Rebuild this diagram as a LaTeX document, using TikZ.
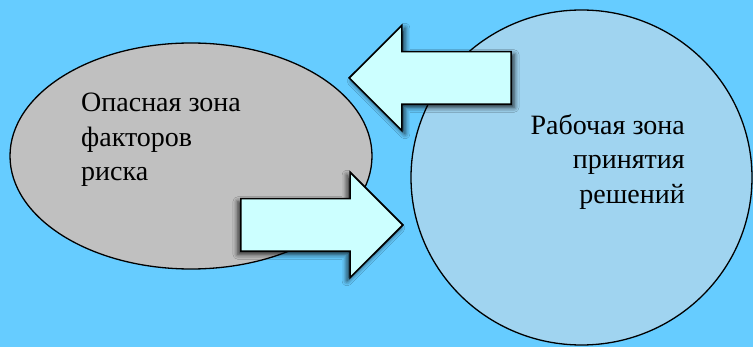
\documentclass[tikz,border=0pt]{standalone}
\usepackage{fontspec}
\setmainfont{Liberation Serif}
\newfontfamily\zonefont{Liberation Serif}
\usetikzlibrary{shapes.geometric,shapes.arrows,shadows.blur}
\definecolor{skybg}{HTML}{66CCFF}
\definecolor{zonegray}{HTML}{C0C0C0}
\definecolor{zoneblue}{HTML}{A0D4F0}
\definecolor{arrowfill}{HTML}{CCFFFF}
\tikzset{
  zone/.style={ellipse, draw, line width=1.3pt, inner sep=0pt},
  zonetext/.style={inner sep=0pt, font=\zonefont\fontsize{28}{34.5}\selectfont},
  flow/.style={single arrow, draw, line width=1.6pt, fill=arrowfill,
    inner sep=25.5pt, minimum height=162pt, minimum width=104pt,
    single arrow head extend=26.5pt, single arrow tip angle=90, anchor=tip},
}

\begin{document}
\begin{tikzpicture}[x=1pt, y=-1pt]
  \fill[skybg] (0,0) rectangle (753,347);
  \useasboundingbox (0,0) rectangle (753,347);

  \node[zone, fill=zonegray, minimum width=362pt, minimum height=226pt] (danger) at (191,156) {};
  \node[zone, fill=zoneblue, minimum width=341pt, minimum height=335pt] (work) at (581.5,177.5) {};

  \node[zonetext, align=left, anchor=north west] (dangertext) at (81,93) {Опасная зона\\факторов\\риска};
  \node[zonetext, align=right, anchor=north east] (worktext) at (685,114) {Рабочая зона\\принятия\\решений};

  % block arrows between the zones
  \node[flow, shape border rotate=180,
    blur shadow={shadow xshift=3pt, shadow yshift=-3pt, shadow blur radius=5pt, shadow opacity=80}] (back) at (348,78) {};
  \node[flow,
    blur shadow={shadow xshift=-3pt, shadow yshift=-3pt, shadow blur radius=5pt, shadow opacity=80}] (forth) at (404,225) {};
\end{tikzpicture}
\end{document}
